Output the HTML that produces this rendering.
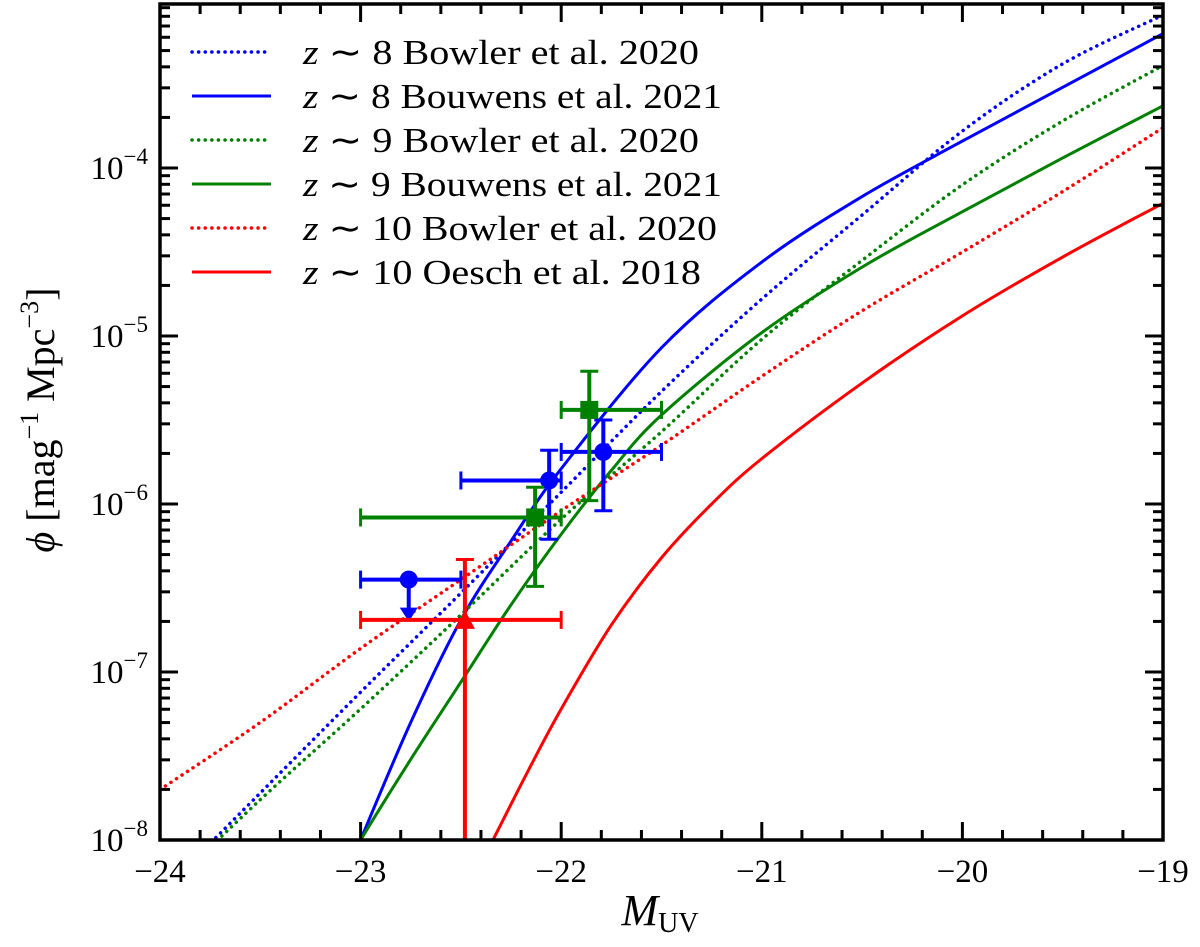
<!DOCTYPE html>
<html><head><meta charset="utf-8"><style>
html,body{margin:0;padding:0;background:#fff;overflow:hidden;width:1200px;height:947px;}
svg{display:block;}
text{font-family:"Liberation Serif",serif;}
</style></head><body>
<svg id="chart" width="1200" height="947" viewBox="0 0 1200 947">
<defs><clipPath id="clip"><rect x="160" y="4" width="1003" height="836"/></clipPath></defs>
<g id="curves" clip-path="url(#clip)"></g>
<g id="points" clip-path="url(#clip)"></g>
<g id="axes"></g>
<g id="legend"></g>
<text x="660" y="925" font-family="Liberation Serif" font-size="44" text-anchor="middle"><tspan font-style="italic">M</tspan><tspan font-size="28" dy="7">UV</tspan></text>
<text transform="translate(54,420) rotate(-90)" font-family="Liberation Serif" font-size="40" text-anchor="middle"><tspan font-style="italic">ϕ</tspan> [mag<tspan font-size="26" dy="-16">−1</tspan><tspan dy="16"> Mpc</tspan><tspan font-size="26" dy="-16">−3</tspan><tspan dy="16">]</tspan></text>
</svg>
<script>
const bowler8M = [-24,-23.5,-23,-22.5,-22,-21.5,-21,-20.5,-20,-19.5,-19];
const bowler8Log = [-8.32,-7.72,-7.12,-6.53,-5.93,-5.33,-4.78,-4.28,-3.78,-3.38,-3.09];
const bouwens8M = [-23.1,-23,-22.75,-22.5,-22.25,-22,-21.5,-21,-20.5,-20,-19.5,-19];
const bouwens8Log = [-8.3,-8,-7.30,-6.69,-6.22,-5.79,-5.07,-4.56,-4.17,-3.84,-3.52,-3.20];
const bowler9M = [-24,-23.5,-23,-22.5,-22,-21.5,-21,-20.5,-20,-19.5,-19];
const bowler9Log = [-8.33,-7.76,-7.22,-6.66,-6.09,-5.57,-5.02,-4.55,-4.10,-3.72,-3.39];
const bouwens9M = [-23.1,-23,-22.75,-22.5,-22.25,-22,-21.75,-21.5,-21,-20.5,-20,-19.5,-19];
const bouwens9Log = [-8.21,-8.0,-7.52,-7.06,-6.60,-6.18,-5.80,-5.47,-4.98,-4.59,-4.26,-3.94,-3.63];
const bowler10M = [-24,-23.5,-23,-22.5,-22,-21.5,-21,-20.5,-20,-19.5,-19];
const bowler10Log = [-7.70,-7.30,-6.86,-6.45,-6.04,-5.65,-5.24,-4.85,-4.50,-4.14,-3.76];
const oesch10M = [-22.45,-22.34,-22.17,-22,-21.75,-21.5,-21.25,-21,-20.5,-20,-19.5,-19];
const oesch10Log = [-8.26,-8,-7.6,-7.22,-6.72,-6.32,-6.00,-5.73,-5.28,-4.88,-4.53,-4.21];
const ptM = [-22.76,-22.06,-21.79];
const ptLog = [-6.45,-5.86,-5.69];
const ptXlo = [-23,-22.5,-22]; const ptXhi = [-22.5,-22,-21.5];
const ptYhi = [null,-5.68,-5.50]; const ptYlo = [-6.7,-6.21,-6.04];
const sqM = [-22.13,-21.86]; const sqLog = [-6.08,-5.44];
const sqXlo = [-23,-22.0]; const sqXhi = [-22.0,-21.5];
const sqYhi = [-5.90,-5.21]; const sqYlo = [-6.49,-5.98];
const triM = [-22.48]; const triLog = [-6.69];
const triXlo = [-23]; const triXhi = [-22]; const triYhi = [-6.33]; const triYlo = [-9];
const xTicks = [-24,-23,-22,-21,-20,-19];
const yTicks = [-8,-7,-6,-5,-4];
const legendZ = ["8","8","9","9","10","10"];
const legendRefs = ["Bowler et al. 2020","Bouwens et al. 2021","Bowler et al. 2020","Bouwens et al. 2021","Bowler et al. 2020","Oesch et al. 2018"];

const X0=160,X1=1163,Y8=840,DEC=168;
const sx=m=>X0+(m+24)/5*(X1-X0);
const sy=l=>Y8-(l+8)*DEC;
const NS="http://www.w3.org/2000/svg";
function mk(tag,attrs,parent){const e=document.createElementNS(NS,tag);for(const k in attrs)e.setAttribute(k,attrs[k]);parent.appendChild(e);return e;}
function smooth(M,L){const p=M.map((m,i)=>[sx(m),sy(L[i])]);let d=`M${p[0][0]},${p[0][1]}`;
 for(let i=0;i<p.length-1;i++){const a=p[i-1]||p[i],b=p[i],c=p[i+1],e=p[i+2]||c;
  const c1=[b[0]+(c[0]-a[0])/6,b[1]+(c[1]-a[1])/6],c2=[c[0]-(e[0]-b[0])/6,c[1]-(e[1]-b[1])/6];
  d+=`C${c1[0]},${c1[1]} ${c2[0]},${c2[1]} ${c[0]},${c[1]}`;}return d;}
const series=[[bowler8M,bowler8Log,"#0000ff",true,"bowler-z8-line"],[bouwens8M,bouwens8Log,"#0000ff",false,"bouwens-z8-line"],
[bowler9M,bowler9Log,"#008000",true,"bowler-z9-line"],[bouwens9M,bouwens9Log,"#008000",false,"bouwens-z9-line"],
[bowler10M,bowler10Log,"#ff0000",true,"bowler-z10-line"],[oesch10M,oesch10Log,"#ff0000",false,"oesch-z10-line"]];
const cg=document.getElementById('curves');
series.forEach(s=>{const a={d:smooth(s[0],s[1]),fill:"none",stroke:s[2],"stroke-width":3};
 if(s[3]){a["stroke-dasharray"]="0.1 6.5";a["stroke-linecap"]="round";a["stroke-width"]=3.5;}
 const e=mk('path',a,cg);
 
 });
const pg=document.getElementById('points');
function errbar(M,Lg,xlo,xhi,yhi,ylo,col,name){
 const g=mk('g',{},pg);
 
 
 const x=sx(M),y=sy(Lg),cap=9;
 mk('line',{x1:sx(xlo),x2:sx(xhi),y1:y,y2:y,stroke:col,"stroke-width":4},g);
 mk('line',{x1:sx(xlo),x2:sx(xlo),y1:y-cap,y2:y+cap,stroke:col,"stroke-width":3},g);
 mk('line',{x1:sx(xhi),x2:sx(xhi),y1:y-cap,y2:y+cap,stroke:col,"stroke-width":3},g);
 const top=yhi===null?y:sy(yhi);
 mk('line',{x1:x,x2:x,y1:top,y2:sy(ylo),stroke:col,"stroke-width":4},g);
 if(yhi!==null)mk('line',{x1:x-cap,x2:x+cap,y1:top,y2:top,stroke:col,"stroke-width":3},g);
 if(ylo>-8.5)mk('line',{x1:x-cap,x2:x+cap,y1:sy(ylo),y2:sy(ylo),stroke:col,"stroke-width":3},g);
 return g;}
ptM.forEach((m,i)=>{const col="#0000ff";let g;
 if(ptYhi[i]===null){g=pg.appendChild(document.createElementNS(NS,'g'));
  
  
  const x=sx(m),y=sy(ptLog[i]);
  mk('line',{x1:sx(ptXlo[i]),x2:sx(ptXhi[i]),y1:y,y2:y,stroke:col,"stroke-width":4},g);
  mk('line',{x1:sx(ptXlo[i]),x2:sx(ptXlo[i]),y1:y-9,y2:y+9,stroke:col,"stroke-width":3},g);
  mk('line',{x1:sx(ptXhi[i]),x2:sx(ptXhi[i]),y1:y-9,y2:y+9,stroke:col,"stroke-width":3},g);
  mk('line',{x1:x,x2:x,y1:y,y2:sy(ptYlo[i])-10,stroke:col,"stroke-width":4},g);
  const yb=sy(ptYlo[i]);mk('polygon',{points:`${x-9},${yb-14} ${x+9},${yb-14} ${x},${yb}`,fill:col},g);
 } else g=errbar(m,ptLog[i],ptXlo[i],ptXhi[i],ptYhi[i],ptYlo[i],col,'bouwens-z8-point');
 mk('circle',{cx:sx(m),cy:sy(ptLog[i]),r:9,fill:col},g);});
sqM.forEach((m,i)=>{const g=errbar(m,sqLog[i],sqXlo[i],sqXhi[i],sqYhi[i],sqYlo[i],"#008000",'z9-square-point');
 mk('rect',{x:sx(m)-9,y:sy(sqLog[i])-9,width:18,height:18,fill:"#008000"},g);});
triM.forEach((m,i)=>{const g=errbar(m,triLog[i],triXlo[i],triXhi[i],triYhi[i],triYlo[i],"#ff0000",'z10-triangle-point');
 const x=sx(m),y=sy(triLog[i]);mk('polygon',{points:`${x-10},${y+9} ${x+10},${y+9} ${x},${y-10}`,fill:"#ff0000"},g);});
const ax=document.getElementById('axes');
const fr=mk('rect',{x:X0,y:4,width:X1-X0,height:Y8-4,fill:"none",stroke:"#000","stroke-width":3.5},ax);


for(let m=-24;m<=-19.001;m+=0.2){const x=sx(m),maj=Math.abs(m-Math.round(m))<1e-6,L=maj?18:10;
 mk('line',{x1:x,x2:x,y1:Y8,y2:Y8-L,stroke:"#000","stroke-width":3},ax);
 mk('line',{x1:x,x2:x,y1:4,y2:4+L,stroke:"#000","stroke-width":3},ax);}
xTicks.forEach(t=>{const e=mk('text',{x:sx(t),y:882,"font-size":33,"text-anchor":"middle","font-family":"Liberation Serif"},ax);e.textContent="−"+Math.abs(t);
 
 });
for(let d=-8;d<-3;d++){for(let k=1;k<10;k++){const l=d+Math.log10(k),y=sy(l);if(y<4)continue;const L=k===1?18:10;
 mk('line',{x1:X0,x2:X0+L,y1:y,y2:y,stroke:"#000","stroke-width":3},ax);
 mk('line',{x1:X1,x2:X1-L,y1:y,y2:y,stroke:"#000","stroke-width":3},ax);}}
yTicks.forEach(t=>{const e=mk('text',{x:148,y:sy(t)+11,"font-size":33,"text-anchor":"end","font-family":"Liberation Serif"},ax);
 e.innerHTML=`10<tspan font-size="23" dy="-15">−${Math.abs(t)}</tspan>`;
 
 });
const lg=document.getElementById('legend');
const rowEnds=[699,722,699,722,717,701];
legendRefs.forEach((lab,i)=>{const y=52+44*i,s=series[i];
 const g=mk('g',{},lg);
 
 
 const a={x1:192,x2:271,y1:y,y2:y,stroke:s[2],"stroke-width":3};
 if(s[3]){a["stroke-dasharray"]="0.1 6.5";a["stroke-linecap"]="round";a["stroke-width"]=3.5;}
 mk('line',a,g);
 const t=mk('text',{x:303,y:y+12,"font-size":35,"font-family":"Liberation Serif",textLength:rowEnds[i]-303,lengthAdjust:"spacingAndGlyphs"},g);
 t.innerHTML=`<tspan font-style="italic">z</tspan> ∼ ${legendZ[i]} ${lab}`;});
</script>
</body></html>
